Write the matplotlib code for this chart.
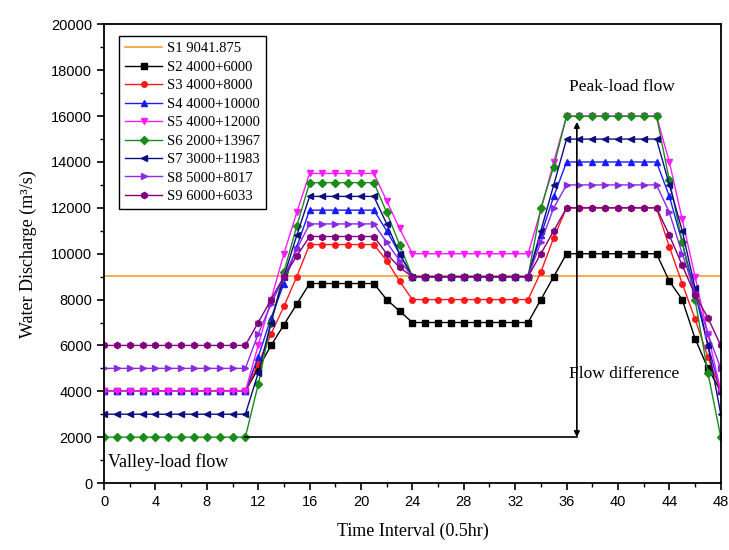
import matplotlib.pyplot as plt
import numpy as np

# time intervals (0.5 hr each)
t = list(range(49))

# S1 constant flow
s1_level = 9041.875

# S2..S9 peak-valley schedules
s2 = [4000, 4000, 4000, 4000, 4000, 4000, 4000, 4000, 4000, 4000, 4000, 4000,
      5000, 6000, 6900, 7800,
      8700, 8700, 8700, 8700, 8700, 8700,
      8000, 7500,
      7000, 7000, 7000, 7000, 7000, 7000, 7000, 7000, 7000, 7000,
      8000, 9000,
      10000, 10000, 10000, 10000, 10000, 10000, 10000, 10000,
      8800, 8000, 6300, 5000, 4000]
s3 = [4000, 4000, 4000, 4000, 4000, 4000, 4000, 4000, 4000, 4000, 4000, 4000,
      5200, 6500, 7700, 9000,
      10400, 10400, 10400, 10400, 10400, 10400,
      9700, 8800,
      8000, 8000, 8000, 8000, 8000, 8000, 8000, 8000, 8000, 8000,
      9200, 10700,
      12000, 12000, 12000, 12000, 12000, 12000, 12000, 12000,
      10300, 8700, 7150, 5500, 4000]
s4 = [4000, 4000, 4000, 4000, 4000, 4000, 4000, 4000, 4000, 4000, 4000, 4000,
      5500, 7200, 8700, 10300,
      11900, 11900, 11900, 11900, 11900, 11900,
      11000, 10000,
      9000, 9000, 9000, 9000, 9000, 9000, 9000, 9000, 9000, 9000,
      10800, 12500,
      14000, 14000, 14000, 14000, 14000, 14000, 14000, 14000,
      12500, 10500, 8300, 6000, 4000]
s5 = [4000, 4000, 4000, 4000, 4000, 4000, 4000, 4000, 4000, 4000, 4000, 4000,
      6000, 8000, 10000, 11800,
      13500, 13500, 13500, 13500, 13500, 13500,
      12300, 11100,
      10000, 10000, 10000, 10000, 10000, 10000, 10000, 10000, 10000, 10000,
      11900, 14000,
      16000, 16000, 16000, 16000, 16000, 16000, 16000, 16000,
      14000, 11500, 9000, 6500, 4000]
s6 = [2000, 2000, 2000, 2000, 2000, 2000, 2000, 2000, 2000, 2000, 2000, 2000,
      4300, 7000, 9200, 11200,
      13100, 13100, 13100, 13100, 13100, 13100,
      11800, 10400,
      9000, 9000, 9000, 9000, 9000, 9000, 9000, 9000, 9000, 9000,
      12000, 13800,
      16000, 16000, 16000, 16000, 16000, 16000, 16000, 16000,
      13200, 10500, 8000, 4800, 2000]
s7 = [3000, 3000, 3000, 3000, 3000, 3000, 3000, 3000, 3000, 3000, 3000, 3000,
      4800, 7000, 9000, 10800,
      12500, 12500, 12500, 12500, 12500, 12500,
      11300, 10000,
      9000, 9000, 9000, 9000, 9000, 9000, 9000, 9000, 9000, 9000,
      11000, 13000,
      15000, 15000, 15000, 15000, 15000, 15000, 15000, 15000,
      13000, 11000, 8500, 6000, 3000]
s8 = [5000, 5000, 5000, 5000, 5000, 5000, 5000, 5000, 5000, 5000, 5000, 5000,
      6500, 7800, 9000, 10200,
      11300, 11300, 11300, 11300, 11300, 11300,
      10500, 9700,
      9000, 9000, 9000, 9000, 9000, 9000, 9000, 9000, 9000, 9000,
      10500, 12000,
      13000, 13000, 13000, 13000, 13000, 13000, 13000, 13000,
      11800, 10000, 8300, 6500, 5000]
s9 = [6000, 6000, 6000, 6000, 6000, 6000, 6000, 6000, 6000, 6000, 6000, 6000,
      7000, 8000, 9000, 9900,
      10750, 10750, 10750, 10750, 10750, 10750,
      10000, 9400,
      9000, 9000, 9000, 9000, 9000, 9000, 9000, 9000, 9000, 9000,
      10000, 11000,
      12000, 12000, 12000, 12000, 12000, 12000, 12000, 12000,
      10800, 9500, 8200, 7200, 6000]

labels = ["S1 9041.875", "S2 4000+6000", "S3 4000+8000", "S4 4000+10000",
          "S5 4000+12000", "S6 2000+13967", "S7 3000+11983", "S8 5000+8017",
          "S9 6000+6033"]

serif = ['Liberation Serif', 'DejaVu Serif']
sans = ['Liberation Sans', 'DejaVu Sans']

fig = plt.figure(figsize=(7.29, 5.5), dpi=100)
ax = fig.add_axes([0.1427, 0.1218, 0.846, 0.8338])

ax.plot([t[0], t[-1]], [s1_level, s1_level], color='#f39c32', lw=1.2, label=labels[0])

series = [s2, s3, s4, s5, s6, s7, s8, s9]
colors = ['black', '#ff1a1a', '#1a1aff', '#ff1aff', '#1a8c1a', '#0d0d80', '#8a2be2', '#800080']
markers = ['s', 'o', '^', 'v', 'D', '<', '>', 'h']
msizes = [4, 4, 4.5, 4.5, 3.8, 4.5, 4.5, 4.5]
for ys, c, m, ms, lab in zip(series, colors, markers, msizes, labels[1:]):
    ax.plot(t, ys, color=c, marker=m, ms=ms, lw=1.0, label=lab)

# flow difference annotation
ax.plot([11, 36.8], [2000, 2000], color='black', lw=1.2)
ax.annotate('', xy=(36.8, 15750), xytext=(36.8, 2000),
            arrowprops=dict(arrowstyle='<|-|>', color='black', lw=1.2,
                            mutation_scale=8, shrinkA=0, shrinkB=0))
ax.text(0.3, 900, 'Valley-load flow', fontsize=13, family=serif, va='center')
ax.text(40.3, 17250, 'Peak-load flow', fontsize=12.5, family=serif, ha='center', va='center')
ax.text(40.5, 4750, 'Flow difference', fontsize=12.5, family=serif, ha='center', va='center')

ax.set_xlim(0, 48)
ax.set_ylim(0, 20000)
ax.set_xticks(np.arange(0, 49, 4))
ax.set_xticks(np.arange(0, 49, 2), minor=True)
ax.set_yticks(np.arange(0, 20001, 2000))
ax.set_yticks(np.arange(0, 20001, 1000), minor=True)
ax.tick_params(which='major', direction='out', length=5, width=1.2, labelsize=10.5)
ax.tick_params(which='minor', direction='out', length=3, width=1.0)
for lb in ax.get_xticklabels() + ax.get_yticklabels():
    lb.set_family(sans)
for sp in ax.spines.values():
    sp.set_linewidth(1.3)

ax.set_xlabel('Time Interval (0.5hr)', fontsize=13, family=serif, labelpad=10)
ax.set_ylabel('Water Discharge (m³/s)', fontsize=13, family=serif, labelpad=10)

leg = ax.legend(loc='upper left', bbox_to_anchor=(0.012, 0.99), fancybox=False,
                edgecolor='black', framealpha=1, prop={'family': serif, 'size': 10.5},
                handlelength=2.6, handletextpad=0.3, borderpad=0.4, labelspacing=0.36)
leg.get_frame().set_linewidth(1.0)

plt.savefig('out.png', dpi=100)
